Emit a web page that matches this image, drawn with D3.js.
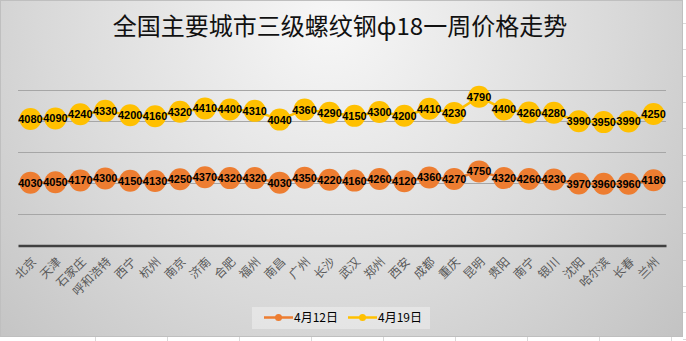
<!DOCTYPE html>
<html>
<head>
<meta charset="utf-8">
<script src="https://cdn.jsdelivr.net/npm/d3@7"></script>
<style>
  html, body { margin: 0; padding: 0; background: #fff; }
  svg { display: block; }
</style>
</head>
<body>
<svg id="chart" width="686" height="341"></svg>
<script>
// Cities along the category axis
const cities = ["北京", "天津", "石家庄", "呼和浩特", "西宁", "杭州", "南京", "济南", "合肥", "福州",
  "南昌", "广州", "长沙", "武汉", "郑州", "西安", "成都", "重庆", "昆明", "贵阳",
  "南宁", "银川", "沈阳", "哈尔滨", "长春", "兰州"];

// Prices (元/吨) for each week
const priceApr12 = [4030, 4050, 4170, 4300, 4150, 4130, 4250, 4370, 4320, 4320,
  4030, 4350, 4220, 4160, 4260, 4120, 4360, 4270, 4750, 4320,
  4260, 4230, 3970, 3960, 3960, 4180];
const priceApr19 = [4080, 4090, 4240, 4330, 4200, 4160, 4320, 4410, 4400, 4310,
  4040, 4360, 4290, 4150, 4300, 4200, 4410, 4230, 4790, 4400,
  4260, 4280, 3990, 3950, 3990, 4250];

const seriesNames = ["4月12日", "4月19日"];
const seriesColors = ["#ED7D31", "#FFC000"];
const gridTicks = [0, 2000, 4000, 6000, 8000, 10000];
const title = "全国主要城市三级螺纹钢ф18一周价格走势";

const W = 686, H = 341;
const chartW = 683, chartH = 337;
const plot = { left: 18, right: 666, top: 89.5, bottom: 245.5 };

const svg = d3.select("#chart");
const defs = svg.append("defs");

// Worksheet cell borders around the chart object
const cellLines = svg.append("g").attr("stroke", "#d9d9d9").attr("stroke-width", 1);
d3.range(23, 341, 26.3).forEach(y => {
  cellLines.append("line").attr("x1", chartW).attr("x2", W).attr("y1", Math.round(y) + 0.5).attr("y2", Math.round(y) + 0.5);
});
d3.range(95, 686, 72).forEach(x => {
  cellLines.append("line").attr("x1", Math.round(x) + 0.5).attr("x2", Math.round(x) + 0.5).attr("y1", chartH).attr("y2", H);
});

// Chart area background with soft radial shading
const grad = defs.append("radialGradient")
  .attr("id", "bg").attr("gradientUnits", "userSpaceOnUse")
  .attr("cx", 330).attr("cy", 20).attr("r", 520);
grad.append("stop").attr("offset", "0%").attr("stop-color", "#f7f7f7");
grad.append("stop").attr("offset", "55%").attr("stop-color", "#d9d9d9");
grad.append("stop").attr("offset", "100%").attr("stop-color", "#bdbdbd");

svg.append("rect")
  .attr("x", 0.5).attr("y", 0.5)
  .attr("width", chartW - 1).attr("height", chartH - 1)
  .attr("fill", "url(#bg)")
  .attr("stroke", "#bfbfbf").attr("stroke-width", 1);

// Title
svg.append("text")
  .attr("x", 340).attr("y", 35)
  .attr("text-anchor", "middle")
  .attr("font-family", "'Noto Sans CJK SC', sans-serif")
  .attr("font-size", 24)
  .attr("fill", "#111")
  .text(title);

// Scales
const x = d3.scaleBand().domain(cities).range([plot.left, plot.right]).padding(0);
const y = d3.scaleLinear().domain([0, 10000]).range([plot.bottom, plot.top]);

// Horizontal gridlines
svg.append("g")
  .selectAll("line")
  .data(gridTicks.filter(t => t > 0))
  .join("line")
  .attr("x1", plot.left).attr("x2", plot.right)
  .attr("y1", d => Math.round(y(d)) + 0.5).attr("y2", d => Math.round(y(d)) + 0.5)
  .attr("stroke", "#a6a6a6").attr("stroke-width", 1);

// Category axis (line only, rotated labels)
const xAxis = d3.axisBottom(x).tickSize(0).tickPadding(0);
const axisG = svg.append("g")
  .attr("transform", `translate(0,${plot.bottom})`)
  .call(xAxis);
axisG.select(".domain").attr("stroke", "#404040").attr("stroke-width", 2.5);
axisG.selectAll(".tick text")
  .attr("font-family", "'Noto Sans CJK SC', sans-serif")
  .attr("font-size", 12)
  .attr("fill", "#595959")
  .attr("text-anchor", "end")
  .attr("dy", "0.35em")
  .attr("transform", "translate(3.5,14) rotate(-45)");

// Stacked series: the second week sits on top of the first
const rows = cities.map((c, i) => ({ city: c, a: priceApr12[i], b: priceApr19[i] }));
const stack = d3.stack().keys(["a", "b"])(rows);

const cx = d => x(d.data.city) + x.bandwidth() / 2;
const line = d3.line().x(cx).y(d => y(d[1]));

stack.forEach((layer, k) => {
  const g = svg.append("g");
  g.append("path")
    .datum(layer)
    .attr("d", line)
    .attr("fill", "none")
    .attr("stroke", seriesColors[k])
    .attr("stroke-width", 2.5);
  g.selectAll("circle")
    .data(layer)
    .join("circle")
    .attr("cx", cx)
    .attr("cy", d => y(d[1]))
    .attr("r", 11)
    .attr("fill", seriesColors[k]);
});

// Value labels centred on each marker
stack.forEach((layer, k) => {
  svg.append("g")
    .selectAll("text")
    .data(layer)
    .join("text")
    .attr("x", cx)
    .attr("y", d => y(d[1]))
    .attr("dy", "0.36em")
    .attr("text-anchor", "middle")
    .attr("font-family", "'Liberation Sans', Arial, sans-serif")
    .attr("font-weight", "bold")
    .attr("font-size", 11)
    .attr("fill", "#000")
    .text(d => d.data[layer.key]);
});

// Legend
const legend = svg.append("g");
legend.append("rect")
  .attr("x", 252).attr("y", 307).attr("width", 178).attr("height", 22)
  .attr("fill", "#ffffff").attr("fill-opacity", 0.35);
const legendX = [264, 348];
seriesNames.forEach((name, k) => {
  const lx = legendX[k];
  legend.append("line")
    .attr("x1", lx).attr("x2", lx + 29).attr("y1", 317.5).attr("y2", 317.5)
    .attr("stroke", seriesColors[k]).attr("stroke-width", 2.5);
  legend.append("circle")
    .attr("cx", lx + 14.5).attr("cy", 317.5).attr("r", 3.5)
    .attr("fill", seriesColors[k]);
  legend.append("text")
    .attr("x", lx + 30).attr("y", 317.5).attr("dy", "0.36em")
    .attr("font-family", "'Noto Sans CJK SC', sans-serif")
    .attr("font-size", 12)
    .attr("fill", "#000")
    .text(name);
});
</script>
</body>
</html>
